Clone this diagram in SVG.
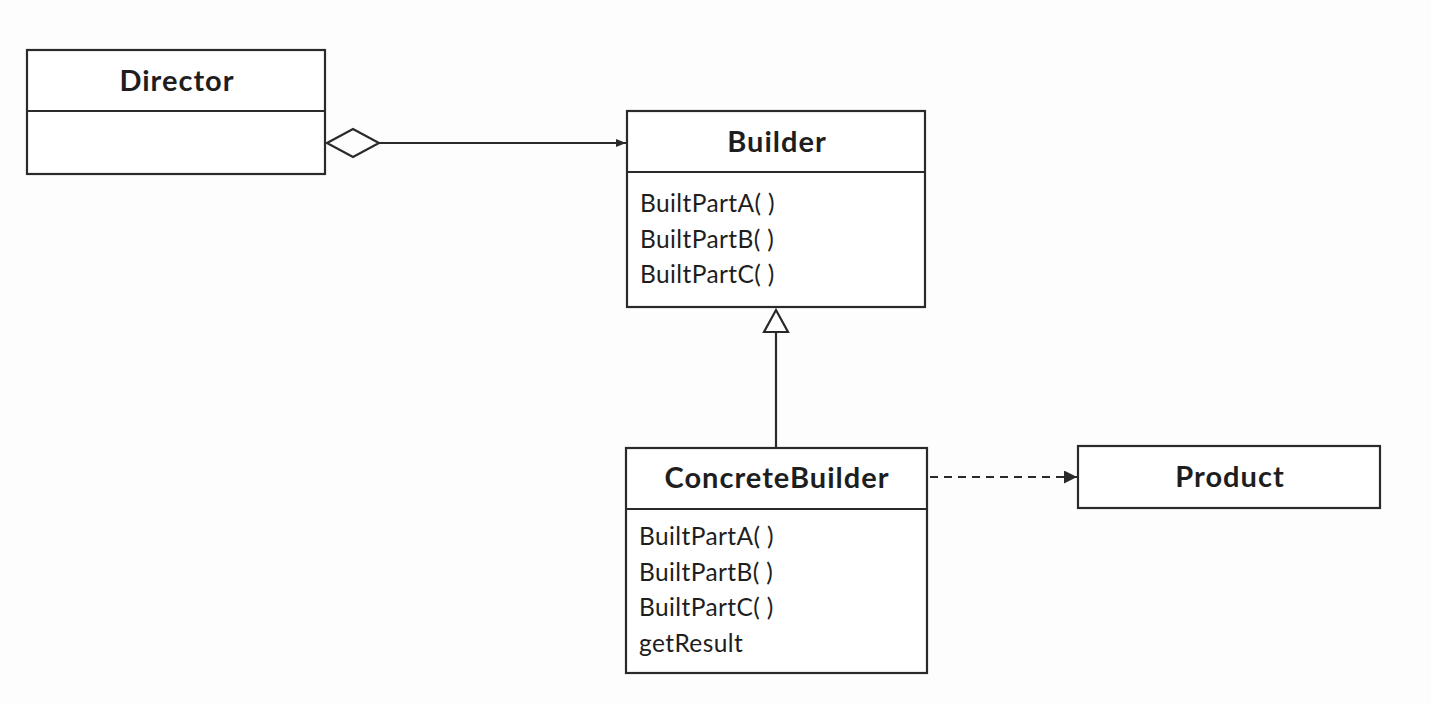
<svg xmlns="http://www.w3.org/2000/svg" width="1431" height="705" viewBox="0 0 1431 705">
  <style>
    .box { fill: #ffffff; stroke: #2a2a2a; stroke-width: 2.2; }
    .div { stroke: #2a2a2a; stroke-width: 2.2; }
    .title { font-family: Lato, "Open Sans", sans-serif; font-weight: bold; font-size: 29px; letter-spacing: 1px; fill: #1e1e1e; text-anchor: middle; }
    .item { font-family: Lato, "Open Sans", sans-serif; font-size: 24.5px; letter-spacing: 0.4px; fill: #1e1e1e; }
    .line { fill: none; stroke: #2a2a2a; stroke-width: 2.2; }
  </style>
  <defs>
    <marker id="arrowSmall" viewBox="0 0 10 10" refX="10" refY="5" markerWidth="10" markerHeight="10" markerUnits="userSpaceOnUse" orient="auto">
      <path d="M0,1 L10,5 L0,9 Z" fill="#2a2a2a"/>
    </marker>
    <marker id="arrowDep" viewBox="0 0 10 10" refX="10" refY="5" markerWidth="13" markerHeight="13" markerUnits="userSpaceOnUse" orient="auto">
      <path d="M0,0 L10,5 L0,10 Z" fill="#2a2a2a"/>
    </marker>
  </defs>
  <rect width="1431" height="705" fill="#fdfdfd"/>

  <g id="connectors">
    <!-- aggregation: Director to Builder -->
    <path class="line" d="M327,143 L353,129 L379,143 L353,157 Z" fill="#ffffff"/>
    <line class="line" x1="379" y1="143" x2="626" y2="143" marker-end="url(#arrowSmall)"/>
    <!-- generalization: ConcreteBuilder to Builder -->
    <line class="line" x1="776" y1="332" x2="776" y2="448"/>
    <path d="M776,310 L788,332 L764,332 Z" fill="#ffffff" stroke="#2a2a2a" stroke-width="2.2"/>
    <!-- dependency: ConcreteBuilder to Product -->
    <line class="line" x1="930" y1="477" x2="1077" y2="477" stroke-width="2.8" stroke-dasharray="8,6" marker-end="url(#arrowDep)"/>
  </g>

  <g id="director">
    <rect class="box" x="27" y="50" width="298" height="124"/>
    <line class="div" x1="27" y1="111" x2="325" y2="111"/>
    <text class="title" x="177" y="91">Director</text>
  </g>

  <g id="builder">
    <rect class="box" x="627" y="111" width="298" height="196"/>
    <line class="div" x1="627" y1="172" x2="925" y2="172"/>
    <text class="title" x="777" y="152">Builder</text>
    <text class="item" x="640" y="212">BuiltPartA( )</text>
    <text class="item" x="640" y="248">BuiltPartB( )</text>
    <text class="item" x="640" y="283">BuiltPartC( )</text>
  </g>

  <g id="concrete-builder">
    <rect class="box" x="626" y="448" width="301" height="225"/>
    <line class="div" x1="626" y1="509" x2="927" y2="509"/>
    <text class="title" x="777" y="488">ConcreteBuilder</text>
    <text class="item" x="639" y="545">BuiltPartA( )</text>
    <text class="item" x="639" y="581">BuiltPartB( )</text>
    <text class="item" x="639" y="616">BuiltPartC( )</text>
    <text class="item" x="639" y="652">getResult</text>
  </g>

  <g id="product">
    <rect class="box" x="1078" y="446" width="302" height="62"/>
    <text class="title" x="1230" y="487">Product</text>
  </g>
</svg>
